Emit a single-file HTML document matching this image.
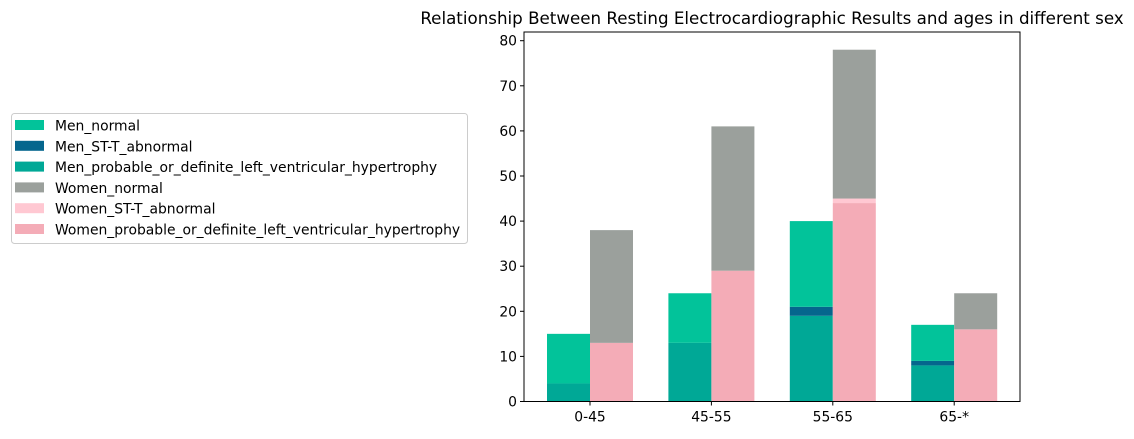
<!DOCTYPE html>
<html><head><meta charset="utf-8"><style>
body{margin:0;background:#fff;font-family:"DejaVu Sans","Liberation Sans",sans-serif}
svg text{font-family:"DejaVu Sans","Liberation Sans",sans-serif;font-size:13.9px;fill:#000}
</style></head><body>
<svg id="c" width="1134" height="435"></svg>
<script>
const categories=["0-45","45-55","55-65","65-*"];
const menNormal=[11,11,19,8];
const menST=[0,0,2,1];
const menLVH=[4,13,19,8];
const womenNormal=[25,32,33,8];
const womenST=[0,0,1,0];
const womenLVH=[13,29,44,16];
const yTicks=[0,10,20,30,40,50,60,70,80];
const seriesNames=["Men_normal","Men_ST-T_abnormal","Men_probable_or_definite_left_ventricular_hypertrophy","Women_normal","Women_ST-T_abnormal","Women_probable_or_definite_left_ventricular_hypertrophy"];
const colors=["#02c39a","#05668d","#00a896","#9ba09c","#ffc8d2","#f4acb7"];
const NS="http://www.w3.org/2000/svg",svg=document.getElementById('c');
const L=524,R=1020,T=32,B=401.5;
const y=v=>B-v*4.51;
const x=i=>590+i*121.4;
const bw=43;
function mk(t,a){const e=document.createElementNS(NS,t);for(const k in a)e.setAttribute(k,a[k]);svg.appendChild(e);return e;}
function rect(x0,v0,v1,col,name){const r=mk('rect',{x:x0,y:y(v1),width:bw,height:y(v0)-y(v1),fill:col});

}
categories.forEach((c,i)=>{
  let b=0;
  [[menLVH,2],[menST,1],[menNormal,0]].forEach(([arr,ci])=>{rect(x(i)-bw,b,b+arr[i],colors[ci],'bar-'+seriesNames[ci].toLowerCase()+'-'+c);b+=arr[i];});
  b=0;
  [[womenLVH,5],[womenST,4],[womenNormal,3]].forEach(([arr,ci])=>{rect(x(i),b,b+arr[i],colors[ci],'bar-'+seriesNames[ci].toLowerCase()+'-'+c);b+=arr[i];});
  mk('line',{x1:x(i),x2:x(i),y1:B,y2:B+4,stroke:'#000'});
  const t=mk('text',{x:x(i),y:B+20,'text-anchor':'middle'});t.textContent=c;
  
  
});
yTicks.forEach(v=>{
  mk('line',{x1:L-4,x2:L,y1:y(v),y2:y(v),stroke:'#000'});
  const t=mk('text',{x:L-7,y:y(v)+5,'text-anchor':'end'});t.textContent=v;
  
  
});
const f=mk('rect',{x:L,y:T,width:R-L,height:B-T,fill:'none',stroke:'#000','stroke-width':1});


const ti=mk('text',{x:(L+R)/2,y:24,'text-anchor':'middle',style:'font-size:16.7px'});
ti.textContent="Relationship Between Resting Electrocardiographic Results and ages in different sex";


const lg=mk('rect',{x:11.5,y:113.5,width:456,height:130,rx:3,fill:'#fff',stroke:'#ccc'});


seriesNames.forEach((n,k)=>{
  const yy=120+k*20.8;
  mk('rect',{x:15,y:yy,width:29,height:10,fill:colors[k]});
  const t=mk('text',{x:55,y:yy+10.5});t.textContent=n;
  
  
});
</script>
</body></html>
